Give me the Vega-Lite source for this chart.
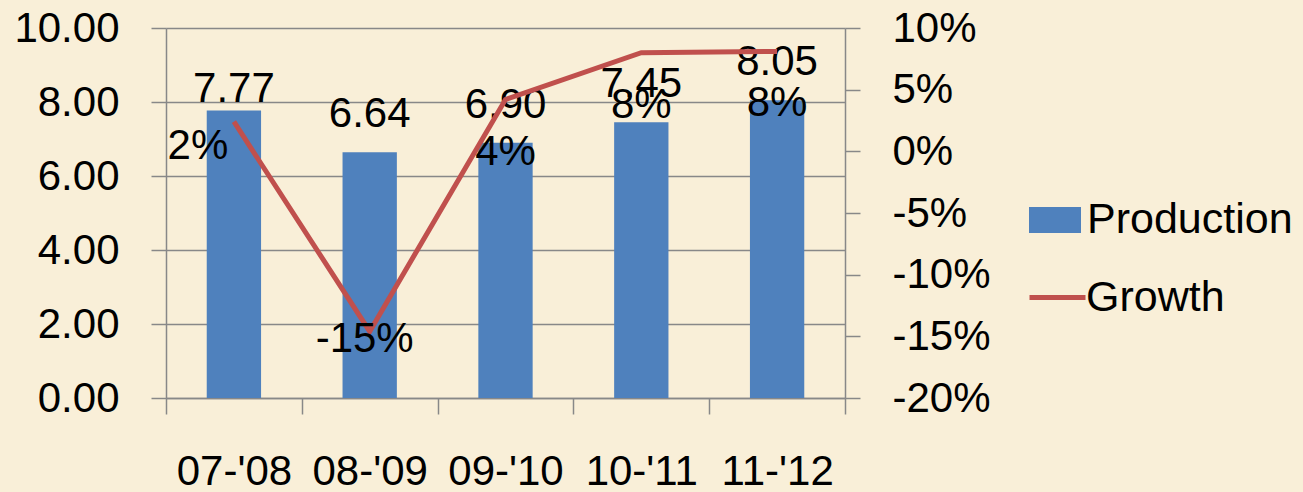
{
  "$schema": "https://vega.github.io/schema/vega-lite/v6.json",
  "autosize": "none",
  "width": 679,
  "height": 370,
  "padding": {"left": 166, "top": 28, "right": 458, "bottom": 94},
  "background": "#F9EFD8",
  "config": {
    "locale": {"number": {"decimal": ".", "thousands": ",", "grouping": [3], "currency": ["$", ""], "minus": "-"}},
    "view": {"stroke": null},
    "font": "Liberation Sans",
    "axis": {"labelFont": "Liberation Sans", "labelFontSize": 42, "labelColor": "#000000", "domainColor": "#888888", "tickColor": "#888888", "gridColor": "#888888", "domainWidth": 1.5, "tickWidth": 1.5, "gridWidth": 1.5, "title": null},
    "legend": {"labelFont": "Liberation Sans", "labelFontSize": 43, "labelColor": "#000000", "labelLimit": 0}
  },
  "data": {"values": [
    {"year": "07-'08", "production": 7.77, "growth": 0.024},
    {"year": "08-'09", "production": 6.64, "growth": -0.146},
    {"year": "09-'10", "production": 6.90, "growth": 0.042},
    {"year": "10-'11", "production": 7.45, "growth": 0.080},
    {"year": "11-'12", "production": 8.05, "growth": 0.081}
  ]},
  "encoding": {
    "x": {"field": "year", "type": "nominal", "sort": null,
      "scale": {"paddingInner": 0, "paddingOuter": 0},
      "axis": {"labelAngle": 0, "tickBand": "extent", "tickSize": 16, "labelPadding": 37, "domain": true, "grid": false}}
  },
  "layer": [
    {
      "encoding": {
        "y": {"field": "production", "type": "quantitative",
          "scale": {"domain": [0, 10], "nice": false, "zero": true},
          "axis": {"orient": "left", "values": [0, 2, 4, 6, 8, 10], "format": ".2f", "grid": true, "tickSize": 15, "labelPadding": 32}}
      },
      "layer": [
        {"mark": {"type": "bar", "color": "#4F81BD", "width": {"band": 0.4}},
         "encoding": {"fill": {"datum": "Production", "type": "nominal",
           "scale": {"domain": ["Production"], "range": ["#4F81BD"]},
           "legend": {"orient": "none", "legendX": 863, "legendY": 166, "title": null, "symbolType": "M-1,-0.5H1V0.5H-1Z", "symbolSize": 2704, "symbolStrokeWidth": 0, "labelOffset": 6}}}},
        {"transform": [{"filter": "datum.year == \"07-'08\""}],
         "mark": {"type": "text", "fontSize": 42, "font": "Liberation Sans", "baseline": "alphabetic", "dy": -9, "color": "#000000"},
         "encoding": {"text": {"field": "production", "type": "quantitative", "format": ".2f"}}},
        {"transform": [{"filter": "datum.year != \"07-'08\""}],
         "mark": {"type": "text", "fontSize": 42, "font": "Liberation Sans", "baseline": "alphabetic", "dy": -25, "color": "#000000"},
         "encoding": {"text": {"field": "production", "type": "quantitative", "format": ".2f"}}}
      ]
    },
    {
      "encoding": {
        "y": {"field": "growth", "type": "quantitative",
          "scale": {"domain": [-0.2, 0.1], "nice": false, "zero": false},
          "axis": {"orient": "right", "values": [-0.2, -0.15, -0.1, -0.05, 0, 0.05, 0.1], "format": ".0%", "grid": false, "tickSize": 15, "labelPadding": 32}}
      },
      "layer": [
        {"mark": {"type": "line", "strokeWidth": 5, "color": "#C0504D"},
         "encoding": {"stroke": {"datum": "Growth", "type": "nominal",
           "scale": {"domain": ["Growth"], "range": ["#C0504D"]},
           "legend": {"orient": "none", "legendX": 861, "legendY": 239, "title": null, "symbolType": "stroke", "symbolSize": 3136, "symbolStrokeWidth": 5, "labelOffset": -2}}}},
        {"transform": [{"filter": "datum.year == \"07-'08\""}],
         "mark": {"type": "text", "fontSize": 42, "font": "Liberation Sans", "baseline": "alphabetic", "dx": -36, "dy": 37, "color": "#000000"},
         "encoding": {"text": {"field": "growth", "type": "quantitative", "format": ".0%"}}},
        {"transform": [{"filter": "datum.year == \"08-'09\""}],
         "mark": {"type": "text", "fontSize": 42, "font": "Liberation Sans", "baseline": "alphabetic", "dx": -5, "dy": 21, "color": "#000000"},
         "encoding": {"text": {"field": "growth", "type": "quantitative", "format": ".0%"}}},
        {"transform": [{"filter": "datum.year != \"07-'08\" && datum.year != \"08-'09\""}],
         "mark": {"type": "text", "fontSize": 42, "font": "Liberation Sans", "baseline": "alphabetic", "dy": 65, "color": "#000000"},
         "encoding": {"text": {"field": "growth", "type": "quantitative", "format": ".0%"}}}
      ]
    }
  ],
  "resolve": {"scale": {"y": "independent"}}
}
